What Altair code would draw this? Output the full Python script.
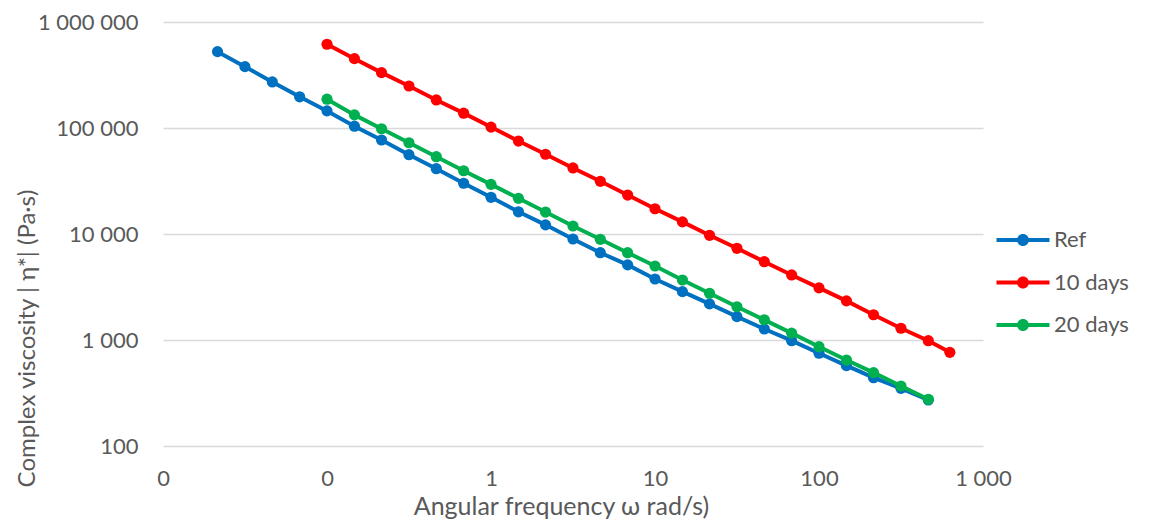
import altair as alt
import pandas as pd

freq = [0.0215, 0.0316, 0.0464, 0.0681, 0.1, 0.147, 0.215, 0.316, 0.464, 0.681,
        1, 1.47, 2.15, 3.16, 4.64, 6.81, 10, 14.7, 21.5, 31.6, 46.4, 68.1,
        100, 147, 215, 316, 464]

ref_freq = freq
ref_eta = [525000, 379000, 272000, 197000, 145000, 104000, 77000, 56000, 41300, 30100,
           22200, 16200, 12200, 8970, 6660, 5110, 3760, 2860, 2190, 1660, 1270, 985,
           750, 573, 441, 350, 272]

d10_freq = freq[4:] + [628]
d10_eta = [617000, 451000, 333000, 249000, 184000, 138000, 102000, 75300, 56500, 42000,
           31400, 23300, 17300, 13000, 9720, 7330, 5480, 4110, 3100, 2340, 1730, 1290,
           985, 765]

d20_freq = freq[4:]
d20_eta = [187000, 133000, 98400, 72600, 53600, 39500, 29400, 21700, 16100, 11900,
           8910, 6660, 4990, 3680, 2760, 2060, 1550, 1160, 865, 647, 492, 368, 276]

series = ["Ref", "10 days", "20 days"]
colors = ["#0070C0", "#FF0000", "#00B050"]

x_ticks = [0.01, 0.1, 1, 10, 100, 1000]
y_ticks = [100, 1000, 10000, 100000, 1000000]

rows = []
for name, fs, es in [("Ref", ref_freq, ref_eta), ("10 days", d10_freq, d10_eta), ("20 days", d20_freq, d20_eta)]:
    for f, e in zip(fs, es):
        rows.append({"series": name, "freq": f, "eta": e})
df = pd.DataFrame(rows)

FONT = "Lato"
GRAY = "#595959"

x_enc = alt.X(
    "freq:Q",
    scale=alt.Scale(type="log", domain=[0.01, 1000], nice=False),
    axis=alt.Axis(
        values=x_ticks,
        labelExpr="datum.value < 1 ? '0' : replace(format(datum.value, ','), ',', ' ')",
        title="Angular frequency ω rad/s)",
        grid=False, domain=False, ticks=False, tickSize=0,
        labelFlush=False, labelOverlap=False,
        labelPadding=22, labelFontSize=22, labelColor=GRAY, labelFont=FONT,
        titleFontSize=25, titleColor=GRAY, titleFont=FONT, titleFontWeight="normal",
        titleX=398, titleY=60, titleBaseline="middle",
    ),
)
y_enc = alt.Y(
    "eta:Q",
    scale=alt.Scale(type="log", domain=[100, 1000000], nice=False),
    axis=alt.Axis(
        values=y_ticks,
        labelExpr="replace(replace(format(datum.value, ','), ',', ' '), ',', ' ')",
        title="Complex viscosity | η*| (Pa·s)",
        grid=True, gridColor="#D9D9D9", gridWidth=1.5,
        domain=False, ticks=False, tickSize=0,
        labelFlush=False, labelOverlap=False,
        labelPadding=25, labelFontSize=22, labelColor=GRAY, labelFont=FONT,
        titleFontSize=24, titleColor=GRAY, titleFont=FONT, titleFontWeight="normal",
        titleX=-136, titleY=316, titleBaseline="middle", titleAngle=-90,
    ),
)

legend_path = ("M-2.65,-0.2L2.65,-0.2L2.65,0.2L-2.65,0.2Z "
               "M-0.6,0A0.6,0.6 0 1,1 0.6,0A0.6,0.6 0 1,1 -0.6,0Z")

color_enc = alt.Color(
    "series:N",
    scale=alt.Scale(domain=series, range=colors),
    legend=alt.Legend(
        title=None, orient="none", legendX=849, legendY=207,
        symbolType=legend_path, symbolSize=400, symbolStrokeWidth=0,
        labelFontSize=22, labelColor=GRAY, labelFont=FONT,
        labelOffset=20, rowPadding=20.5, padding=0,
    ),
    sort=series,
)

layers = []
for name, col in zip(series, colors):
    sub = alt.Chart(df).transform_filter(alt.datum.series == name)
    line = sub.mark_line(strokeWidth=4, color=col).encode(x=x_enc, y=y_enc, detail="series:N")
    pts = sub.mark_point(filled=True, size=125, opacity=1).encode(x=x_enc, y=y_enc, color=color_enc)
    layers.extend([line, pts])

chart = alt.layer(*layers).properties(
    width=820, height=424,
    padding={"left": 155, "top": 14, "right": 159, "bottom": 76},
    autosize=alt.AutoSizeParams(type="none"),
).configure(font=FONT).configure_view(stroke=None)

chart.save("out.html", embed_options={"renderer": "svg", "actions": False})
